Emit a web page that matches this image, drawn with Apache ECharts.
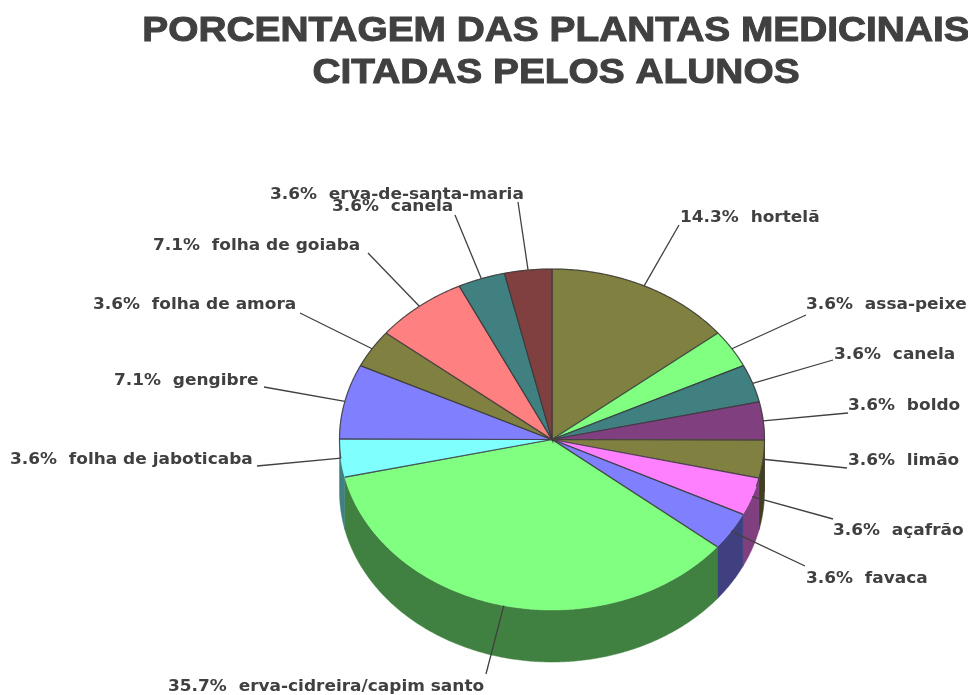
<!DOCTYPE html>
<html>
<head>
<meta charset="utf-8">
<title>Porcentagem das plantas medicinais</title>
<style>
  html, body { margin: 0; padding: 0; background: #fff; }
  #chart { width: 968px; height: 695px; }
</style>
<script src="https://cdn.jsdelivr.net/npm/echarts@6/dist/echarts.min.js"></script>
</head>
<body>
<div id="chart"></div>
<script>
// values, clockwise from 12 o'clock
const plantNames = ['hortelã', 'assa-peixe', 'canela', 'boldo', 'limão', 'açafrão', 'favaca',
  'erva-cidreira/capim santo', 'folha de jaboticaba', 'gengibre', 'folha de amora',
  'folha de goiaba', 'canela', 'erva-de-santa-maria'];
const percentValues = [14.3, 3.6, 3.6, 3.6, 3.6, 3.6, 3.6, 35.7, 3.6, 7.1, 3.6, 7.1, 3.6, 3.6];
const titleLines = ['PORCENTAGEM DAS PLANTAS MEDICINAIS', 'CITADAS PELOS ALUNOS'];

const topColors = ['#808040', '#80ff80', '#408080', '#804080', '#808040', '#ff80ff', '#8080ff',
  '#80ff80', '#80ffff', '#8080ff', '#808040', '#ff8080', '#408080', '#804040'];
const sideColors = ['#404020', '#408040', '#204040', '#402040', '#404020', '#804080', '#404080',
  '#408040', '#408080', '#404080', '#404020', '#804040', '#204040', '#402020'];

// label layout: left edge and middle of the text, then where the leader line meets the label
const labelLeft = [680, 806, 834, 848, 848, 833, 806, 168, 10, 114, 93, 153, 332, 270];
const labelMiddle = [218, 305, 355, 406, 461, 531, 579, 687, 460, 381, 305, 246, 207, 195];
const leaderEnds = [[679, 225], [806, 315], [833, 360], [848, 413], [847, 468], [833, 519], [805, 566],
  [486, 674], [257, 466], [264, 387], [300, 313], [368, 253], [455, 215], [518, 202]];

const CX = 552, CY = 439.5, RX = 212.5, RY = 170.5, DEPTH = 52;
const TEXT_COLOR = '#404040', EDGE_COLOR = '#3a3a3a';

const total = percentValues.reduce((a, b) => a + b, 0);
const sliceAngle = p => p / total * Math.PI * 2;

// start and end angle per slice, 0 at the top going clockwise
const sliceRanges = [];
percentValues.reduce((start, p) => {
  sliceRanges.push([start, start + sliceAngle(p)]);
  return start + sliceAngle(p);
}, 0);

const rimPoint = (a, dy = 0) => [CX + RX * Math.sin(a), CY - RY * Math.cos(a) + dy];

const arc = (a0, a1, dy = 0) => {
  const steps = Math.max(2, Math.ceil((a1 - a0) / 0.01));
  const pts = [];
  for (let i = 0; i <= steps; i++) pts.push(rimPoint(a0 + (a1 - a0) * i / steps, dy));
  return pts;
};

function renderSide(params, api) {
  const [a0, a1] = sliceRanges[api.value(0)];
  const from = Math.max(a0, Math.PI / 2), to = Math.min(a1, Math.PI * 1.5);
  if (to <= from) return { type: 'group', children: [] };
  const pts = arc(from, to).concat(arc(from, to, DEPTH).reverse());
  return {
    type: 'polygon',
    shape: { points: pts },
    style: { fill: sideColors[api.value(0)], stroke: sideColors[api.value(0)], lineWidth: 0.5 }
  };
}

function renderTop(params, api) {
  const i = api.value(0);
  const [a0, a1] = sliceRanges[i];
  const lineStyle = { stroke: EDGE_COLOR, fill: null, lineWidth: 1.2, opacity: 0.85 };
  const children = [{
    type: 'polygon',
    shape: { points: [[CX, CY]].concat(arc(a0, a1)) },
    style: { fill: topColors[i], stroke: topColors[i], lineWidth: 0.5 }
  }, {
    type: 'polyline',
    shape: { points: [rimPoint(a0), [CX, CY], rimPoint(a1)] },
    style: lineStyle
  }];
  // the front of the rim has no outline in the picture
  const backEnd = Math.min(a1, 1.85);
  if (a0 < backEnd) {
    children.push({ type: 'polyline', shape: { points: arc(a0, backEnd) }, style: lineStyle });
  }
  const backStart = Math.max(a0, 4.6);
  if (backStart < a1) {
    children.push({ type: 'polyline', shape: { points: arc(backStart, a1) }, style: lineStyle });
  }
  return { type: 'group', children };
}

function renderLabel(params, api) {
  const i = api.value(0);
  const [a0, a1] = sliceRanges[i];
  return {
    type: 'group',
    children: [{
      type: 'polyline',
      shape: { points: [rimPoint((a0 + a1) / 2), leaderEnds[i]] },
      style: { stroke: TEXT_COLOR, fill: null, lineWidth: 1.3 }
    }, {
      type: 'text',
      x: labelLeft[i],
      y: labelMiddle[i],
      scaleX: 1.06,
      style: {
        text: percentValues[i].toFixed(1) + '%  ' + plantNames[i],
        fill: TEXT_COLOR,
        font: 'bold 16px "DejaVu Sans", sans-serif',
        textAlign: 'left',
        textVerticalAlign: 'middle'
      }
    }]
  };
}

const sliceIndex = percentValues.map((p, i) => [i, p]);

// title glyphs are wider than Liberation Sans in the picture, so stretch them sideways
const titleText = (text, y) => ({
  type: 'text',
  x: 556,
  y,
  scaleX: 1.11,
  style: {
    text,
    fill: TEXT_COLOR,
    stroke: TEXT_COLOR,
    lineWidth: 1,
    font: 'bold 35px "Liberation Sans", Arial, sans-serif',
    textAlign: 'center',
    textVerticalAlign: 'middle'
  }
});

const chart = echarts.init(document.getElementById('chart'));
chart.setOption({
  animation: false,
  backgroundColor: '#ffffff',
  graphic: [titleText(titleLines[0], 31), titleText(titleLines[1], 73)],
  series: [
    { type: 'custom', coordinateSystem: 'none', z: 1, data: sliceIndex, renderItem: renderSide },
    { type: 'custom', coordinateSystem: 'none', z: 2, data: sliceIndex, renderItem: renderTop },
    { type: 'custom', coordinateSystem: 'none', z: 3, data: sliceIndex, renderItem: renderLabel }
  ]
});

window.addEventListener('resize', () => chart.resize());
</script>
</body>
</html>
